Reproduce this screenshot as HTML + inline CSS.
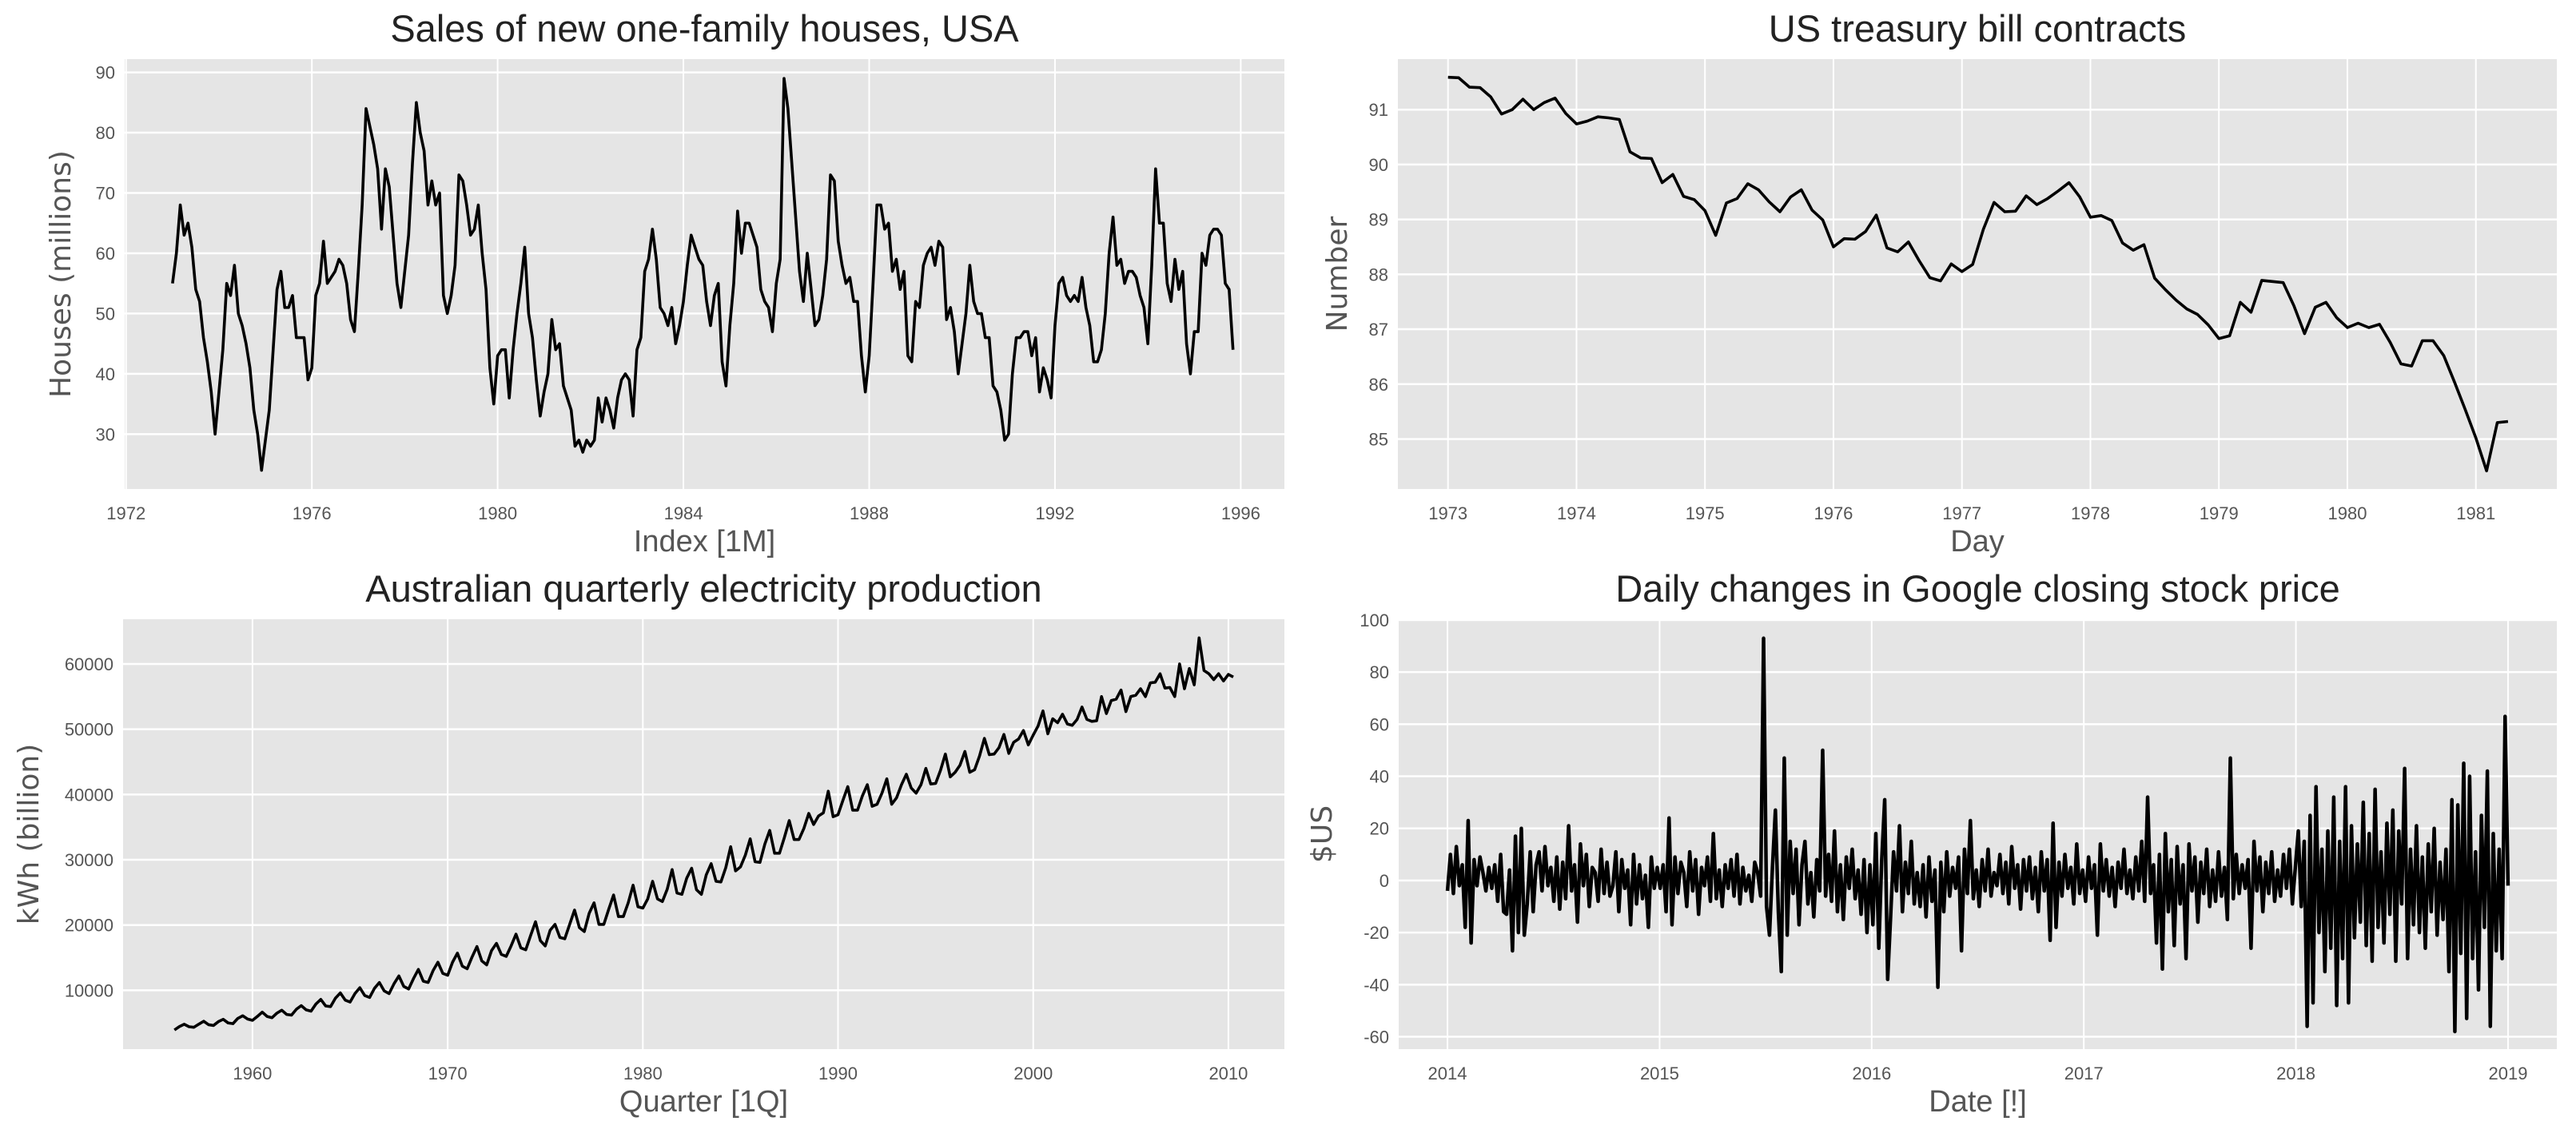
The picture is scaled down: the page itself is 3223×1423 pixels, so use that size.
<!DOCTYPE html>
<html><head><meta charset="utf-8"><style>
html,body{margin:0;padding:0;background:#fff;}
svg{display:block;font-family:"Liberation Sans",sans-serif;}
</style></head><body>
<svg id="fig" width="3223" height="1423" viewBox="0 0 3223 1423" xmlns="http://www.w3.org/2000/svg"></svg>
<script>
// ---------- Data ----------
const hsalesValues = [55,60,68,63,65,61,54,52,46,42,37,30, 37,44,55,53,58,50,48,45,41,34,30,24, 29,34,44,54,57,51,51,53,46,46,46,39, 41,53,55,62,55,56,57,59,58,55,49,47, 57,68,84,81,78,74,64,74,71,63,55,51, 57,63,75,85,80,77,68,72,68,70,53,50, 53,58,73,72,68,63,64,68,60,54,41,35, 43,44,44,36,44,50,55,61,50,46,39,33, 37,40,49,44,45,38,36,34,28,29,27,29, 28,29,36,32,36,34,31,36,39,40,39,33, 44,46,57,59,64,59,51,50,48,51,45,48, 52,58,63,61,59,58,52,48,53,55,42,38, 48,55,67,60,65,65,63,61,54,52,51,47, 55,59,89,84,75,66,57,52,60,54,48,49, 53,59,73,72,62,58,55,56,52,52,43,37, 43,55,68,68,64,65,57,59,54,57,43,42, 52,51,58,60,61,58,62,61,49,51,47,40, 45,50,58,52,50,50,46,46,38,37,34,29, 30,40,46,46,47,47,43,46,37,41,39,36, 48,55,56,53,52,53,52,56,51,48,42,42, 44,50,60,66,58,59,55,57,57,56,53,51, 45,58,74,65,65,55,52,59,54,57,45,40, 47,47,60,58,63,64,64,63,55,54,44];
const hsalesStart = 1973;
const hsalesYTicks = [30,40,50,60,70,80,90];
const hsalesXTicks = [1972,1976,1980,1984,1988,1992,1996];

const billValues = [91.59,91.58,91.41,91.40,91.23,90.92,91.0,91.19,91.0,91.13,91.21,90.93,90.74,90.79,90.87,90.85,90.82,90.23,90.12,90.11,89.67,89.82,89.42,89.36,89.16,88.71,89.30,89.38,89.65,89.54,89.32,89.14,89.41,89.54,89.17,88.99,88.50,88.65,88.64,88.78,89.08,88.48,88.41,88.59,88.25,87.94,87.88,88.19,88.05,88.18,88.82,89.31,89.14,89.15,89.43,89.27,89.38,89.52,89.67,89.41,89.04,89.07,88.98,88.57,88.44,88.54,87.93,87.72,87.53,87.37,87.27,87.08,86.83,86.88,87.49,87.31,87.89,87.87,87.85,87.43,86.92,87.40,87.49,87.21,87.03,87.11,87.03,87.09,86.76,86.37,86.33,86.79,86.79,86.52,86.04,85.54,85.02,84.42,85.30,85.32];
const billStart = 1973;
const billYTicks = [85,86,87,88,89,90,91];
const billXTicks = [1973,1974,1975,1976,1977,1978,1979,1980,1981];

const elecValues = [3923,4436,4806,4418, 4339,4811,5259,4735, 4608,5196,5558,5000, 4890,5700,6100,5600, 5400,6000,6650,6000, 5800,6500,6950,6300, 6200,7100,7650,7000, 6800,7900,8600,7600, 7500,8800,9600,8500, 8200,9500,10400,9200, 8900,10300,11200,9900, 9500,11000,12200,10600, 10200,11800,13200,11400, 11200,13000,14300,12600, 12300,14300,15700,13700, 13300,15100,16700,14500, 13900,16100,17200,15500, 15200,16800,18600,16500, 16200,18400,20500,17600, 16800,19200,20100,18100, 17900,20100,22300,19600, 19000,21800,23400,20100, 20100,22400,24600,21300, 21300,23400,26100,22800, 22600,24000,26700,24000, 23600,25500,28500,24900, 24700,27200,28700,25400, 24700,27700,29400,26700, 26600,28800,32000,28300, 28900,30700,33200,29700, 29600,32400,34500,31000, 31000,33400,36000,33100, 33100,34800,37100,35400, 36700,37200,40500,36600, 36900,39100,41200,37600, 37600,39800,41500,38200, 38500,40200,42400,38500, 39500,41500,43100,41000, 40200,41500,44000,41600, 41700,43700,46200,42700, 43400,44500,46600,43400, 43800,45900,48600,46100, 46200,47200,49200,46300, 48000,48500,49800,47600, 49100,50500,52800,49300, 51600,51000,52300,50800, 50600,51500,53400,51500, 51200,51300,55000,52400, 54400,54600,56000,52700, 55000,55200,56200,55000, 57100,57200,58500,56300, 56400,55000,60000,56200, 59300,56800,64000,59000, 58500,57600,58500,57400, 58400,58000];
const elecStart = 1956;
const elecYTicks = [10000,20000,30000,40000,50000,60000];
const elecXTicks = [1960,1970,1980,1990,2000,2010];

const googValues = [
-4,10,-5,13,-2,6,-18,23,-24,8,-2,9,3,-4,5,-3,6,-8,10,-12,-13,4,-27,17,-20,20,-21,-9,11,-12,6,11,-4,13,-2,5,-8,9,-11,7,-7,21,-4,6,-16,14,-2,10,-10,5,3,-8,12,-5,7,-6,-2,11,-12,8,-3,4,-17,10,-9,6,-7,2,-18,9,-3,5,
-3,6,-12,24,-17,9,-5,7,3,-10,11,-4,8,-13,5,-2,9,-8,18,-7,4,-10,6,-3,8,-6,10,-9,5,-4,2,-8,7,3,-6,93,-10,-21,5,27,-12,-35,47,-21,15,-5,12,-17,6,15,-9,3,-14,8,-4,50,-6,10,-8,19,-12,6,-15,9,-3,12,-7,4,-13,8,-20,6,
-17,18,-26,8,31,-38,-14,11,-4,21,-12,7,-5,15,-9,3,-10,6,-14,9,-8,4,-41,7,-12,11,-6,5,-3,9,-27,12,-5,23,-7,4,-10,8,-4,12,-6,3,-2,10,-5,7,-9,13,-3,6,-11,8,-4,9,-7,5,-12,11,-4,8,-23,22,-18,7,-6,10,-3,5,-9,14,-5,4,
-8,9,-3,6,-21,14,-4,8,-6,5,-10,7,-3,12,-5,4,-7,9,-4,15,-8,32,-5,6,-24,10,-34,18,-12,8,-25,13,-9,6,-30,14,-4,9,-16,7,-5,12,-10,4,-8,11,-6,5,-15,47,-7,10,-5,6,-3,8,-26,15,-4,9,-12,7,-5,11,-8,4,-6,10,-3,12,-9,5,
19,-10,15,-56,25,-47,36,-20,12,-35,19,-26,32,-48,15,-30,36,-47,21,-22,14,-16,30,-25,18,-31,35,-18,11,-24,22,-13,27,-31,19,-9,43,-30,12,-17,21,-20,9,-26,14,-12,20,-21,7,-15,12,-35,31,-58,29,-28,45,-53,40,-30,11,-42,25,-18,42,-56,18,-27,12,-30,63,-2];
const googStart = 2014, googEnd = 2019;
const googYTicks = [-60,-40,-20,0,20,40,60,80,100];
const googXTicks = [2014,2015,2016,2017,2018,2019];

// ---------- Drawing ----------
const NS = "http://www.w3.org/2000/svg";
const svg = document.getElementById('fig');
function mk(tag, attrs, parent){
  const e = document.createElementNS(NS, tag);
  for (const k in attrs) e.setAttribute(k, attrs[k]);
  (parent||svg).appendChild(e);
  return e;
}
function panel(cfg){
  const g = mk('g', {});
  
  
  const sx = v => cfg.L + (v - cfg.x0) / (cfg.x1 - cfg.x0) * (cfg.R - cfg.L);
  const sy = v => cfg.B - (v - cfg.y0) / (cfg.y1 - cfg.y0) * (cfg.B - cfg.T);
  const bg = mk('rect', {x:cfg.L, y:cfg.T, width:cfg.R-cfg.L, height:cfg.B-cfg.T, fill:'#e5e5e5'}, g);
  
  
  cfg.yticks.forEach(t => {
    const y = sy(t);
    const ln = mk('line', {x1:cfg.L, x2:cfg.R, y1:y, y2:y, stroke:'#fff', 'stroke-width':2.5}, g);
    
    
    const tx = mk('text', {x:cfg.L-12, y:y+8, 'text-anchor':'end', 'font-size':22, fill:'#555'}, g);
    
    
    tx.textContent = t;
  });
  cfg.xticks.forEach(t => {
    const x = sx(t);
    const ln = mk('line', {x1:x, x2:x, y1:cfg.T, y2:cfg.B, stroke:'#fff', 'stroke-width':2}, g);
    
    
    const tx = mk('text', {x:x, y:cfg.B+38, 'text-anchor':'middle', 'font-size':22, fill:'#555'}, g);
    
    
    tx.textContent = t;
  });
  const pts = cfg.values.map((v,i) => sx(cfg.xOf(i)).toFixed(2) + ',' + sy(v).toFixed(2)).join(' ');
  const pl = mk('polyline', {points:pts, fill:'none', stroke:'#000', 'stroke-width':cfg.sw||3.6, 'stroke-linejoin':'round'}, g);
  
  
  const ttl = mk('text', {x:(cfg.L+cfg.R)/2, y:cfg.T-22, 'text-anchor':'middle', 'font-size':47, fill:'#222'}, g);
  
  
  ttl.textContent = cfg.title;
  const xl = mk('text', {x:(cfg.L+cfg.R)/2, y:cfg.B+78, 'text-anchor':'middle', 'font-size':38, fill:'#555'}, g);
  
  
  xl.textContent = cfg.xlabel;
  const cy = (cfg.T+cfg.B)/2;
  const yl = mk('text', {x:cfg.ylx, y:cy, 'text-anchor':'middle', 'font-size':36, fill:'#555',
    'font-family':'"DejaVu Sans",sans-serif', transform:'rotate(-90 '+cfg.ylx+' '+cy+')'}, g);
  
  
  yl.textContent = cfg.ylabel;
}

panel({name:'house-sales-chart', L:156, R:1607, T:74, B:612, x0:1971.97, x1:1996.94, y0:20.9, y1:92.2,
  values:hsalesValues, xOf:i=>hsalesStart+i/12, yticks:hsalesYTicks, xticks:hsalesXTicks,
  title:'Sales of new one-family houses, USA', xlabel:'Index [1M]', ylabel:'Houses (millions)', ylx:88});
panel({name:'treasury-bill-chart', L:1749, R:3199, T:74, B:612, x0:1972.61, x1:1981.63, y0:84.09, y1:91.92,
  values:billValues, xOf:i=>billStart+i/12, yticks:billYTicks, xticks:billXTicks,
  title:'US treasury bill contracts', xlabel:'Day', ylabel:'Number', ylx:1685});
panel({name:'electricity-chart', L:154, R:1607, T:775, B:1313, x0:1953.37, x1:2012.87, y0:991, y1:66850,
  values:elecValues, xOf:i=>elecStart+i/4, yticks:elecYTicks, xticks:elecXTicks,
  title:'Australian quarterly electricity production', xlabel:'Quarter [1Q]', ylabel:'kWh (billion)', ylx:48});
panel({name:'google-changes-chart', L:1750, R:3199, T:775, B:1313, x0:2013.77, x1:2019.23, y0:-64.75, y1:100.3,
  values:googValues, xOf:i=>googStart+i*(googEnd-googStart)/(googValues.length-1), yticks:googYTicks, xticks:googXTicks, sw:4.5,
  title:'Daily changes in Google closing stock price', xlabel:'Date [!]', ylabel:'$US', ylx:1666});
</script>
</body></html>
